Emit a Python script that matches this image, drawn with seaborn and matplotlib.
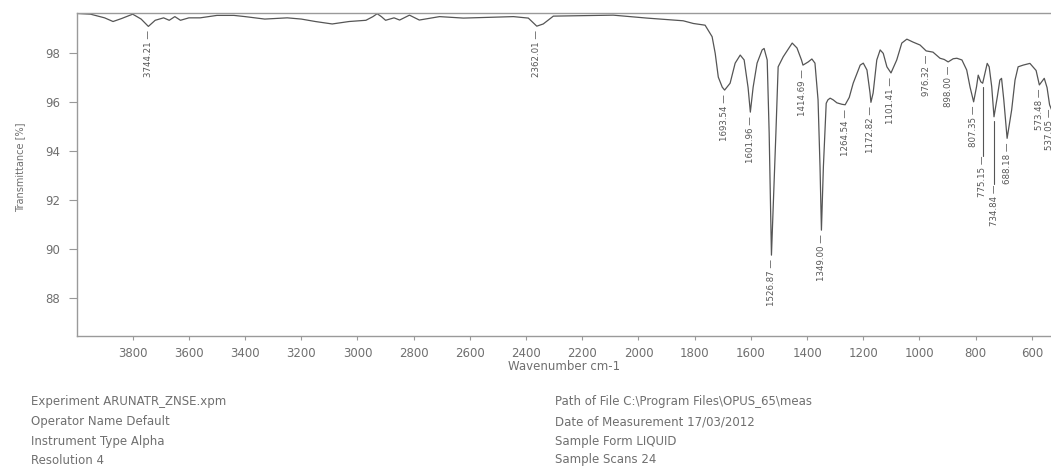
import matplotlib
matplotlib.use("Agg")
import matplotlib.pyplot as plt
from matplotlib import font_manager
import seaborn as sns
import numpy as np
import pandas as pd

# spectrum (wavenumber cm-1, transmittance %)
wavenumber = [4000, 3950, 3900, 3870, 3840, 3800, 3770, 3744.21, 3720, 3690,
              3670, 3650, 3630, 3600, 3560, 3500, 3440, 3400, 3330, 3250,
              3200, 3150, 3090, 3030, 2970, 2945, 2930, 2915, 2900, 2870,
              2850, 2815, 2780, 2708, 2623, 2445, 2392, 2362.01, 2339, 2303,
              2090, 1970, 1876, 1841, 1805, 1763, 1738, 1727, 1716, 1702,
              1693.54, 1674, 1656, 1638, 1624, 1610, 1601.96, 1592, 1578, 1560,
              1553, 1542, 1535, 1526.87, 1511, 1503, 1485, 1453, 1436, 1420,
              1414.69, 1396, 1383, 1372, 1361, 1354, 1349.00, 1342, 1332, 1326,
              1318, 1307, 1294, 1276, 1264.54, 1250, 1236, 1211, 1200, 1187,
              1176, 1172.82, 1165, 1152, 1140, 1129, 1116, 1101.41, 1081, 1063,
              1045, 1023, 998, 976.32, 952, 927, 912, 898.00, 880, 867,
              849, 832, 820, 807.35, 797, 791, 782, 775.15, 767, 759,
              752, 743, 734.84, 723, 714, 708, 700, 688.18, 672, 660,
              649, 631, 607, 585, 573.48, 556, 546, 537.05, 530]
transmittance = [99.63, 99.6, 99.45, 99.3, 99.42, 99.6, 99.4, 99.1, 99.35, 99.45,
                 99.35, 99.5, 99.35, 99.45, 99.45, 99.55, 99.55, 99.5, 99.4, 99.45,
                 99.4, 99.3, 99.2, 99.3, 99.35, 99.5, 99.62, 99.5, 99.35, 99.45,
                 99.36, 99.56, 99.36, 99.5, 99.44, 99.5, 99.44, 99.11, 99.2, 99.52,
                 99.56, 99.44, 99.36, 99.33, 99.22, 99.15, 98.68, 98.0, 97.03, 96.62,
                 96.5, 96.78, 97.6, 97.93, 97.73, 96.6, 95.6, 96.62, 97.6, 98.14,
                 98.2, 97.73, 94.75, 89.76, 94.75, 97.45, 97.86, 98.42, 98.22, 97.73,
                 97.52, 97.65, 97.77, 97.6, 96.1, 93.37, 90.78, 93.37, 95.96, 96.1,
                 96.17, 96.1, 95.98, 95.92, 95.9, 96.2, 96.78, 97.52, 97.6, 97.32,
                 96.38, 96.0, 96.38, 97.73, 98.14, 98.0, 97.45, 97.2, 97.73, 98.42,
                 98.58, 98.46, 98.34, 98.1, 98.05, 97.8, 97.75, 97.65, 97.78, 97.8,
                 97.73, 97.32, 96.62, 96.02, 96.64, 97.11, 96.84, 96.78, 97.18, 97.59,
                 97.45, 96.64, 95.41, 96.23, 96.91, 96.98, 96.1, 94.53, 95.69, 96.91,
                 97.45, 97.52, 97.59, 97.3, 96.71, 96.98, 96.6, 95.9, 95.7]

peak_labels = [3744.21, 2362.01, 1693.54, 1601.96, 1526.87, 1414.69, 1349.00,
               1264.54, 1172.82, 1101.41, 976.32, 898.00, 807.35, 775.15,
               734.84, 688.18, 573.48, 537.05]
# crowded labels pushed down with a leader line (transmittance units)
leader_drop = {775.15: 2.8, 734.84: 2.6}

x_ticks = list(range(3800, 500, -200))
y_ticks = [88, 90, 92, 94, 96, 98]

info_left = ["Experiment ARUNATR_ZNSE.xpm", "Operator Name Default",
             "Instrument Type Alpha", "Resolution 4"]
info_right = [r"Path of File C:\Program Files\OPUS_65\meas",
              "Date of Measurement 17/03/2012", "Sample Form LIQUID",
              "Sample Scans 24"]

df = pd.DataFrame({"wn": wavenumber, "T": transmittance})

sns.set_theme(style="white")
names = {f.name for f in font_manager.fontManager.ttflist}
narrow = "Liberation Sans Narrow" if "Liberation Sans Narrow" in names else "DejaVu Sans"
plt.rcParams["font.family"] = ["DejaVu Sans"]

txt = "#6f6f6f"
fig = plt.figure(figsize=(10.51, 4.66), dpi=100)
ax = fig.add_axes([76.5 / 1051, 1 - 335.7 / 466, 1 - 76.5 / 1051, (335.7 - 12.7) / 466])

sns.lineplot(data=df, x="wn", y="T", ax=ax, color="#555555", linewidth=0.9)
ax.set_xlim(4000, 532)
ax.set_ylim(86.47, 99.66)
ax.set_xticks(x_ticks)
ax.set_yticks(y_ticks)
ax.tick_params(axis="x", direction="out", length=3, width=0.8, color="#999999",
               labelsize=8.5, labelcolor=txt, pad=5, bottom=True)
ax.tick_params(axis="y", direction="out", length=6, width=0.8, color="#999999",
               labelsize=8.5, labelcolor=txt, pad=6, left=True)
for side in ["left", "bottom", "top"]:
    ax.spines[side].set_color("#9a9a9a")
    ax.spines[side].set_linewidth(1.0)
ax.spines["right"].set_visible(False)

ax.set_xlabel("Wavenumber cm-1", fontsize=8.5, color=txt)
ax.xaxis.set_label_coords(0.5, -0.075)
ax.set_ylabel("Transmittance [%]", fontsize=7, color=txt, family=[narrow, "DejaVu Sans"])
ax.yaxis.set_label_coords(-0.058, 0.52)
ax.yaxis.label.set_va("center")

# peak annotations below each band
gap = 0.16
for wn in peak_labels:
    t = np.interp(wn, wavenumber[::-1], transmittance[::-1])
    top = t - gap
    drop = leader_drop.get(wn, 0)
    if drop:
        ax.plot([wn, wn], [top, top - drop], color="#555555", linewidth=0.8, clip_on=False)
    ax.text(wn, top - drop, f"{wn:.2f} \u2014", rotation=90, ha="center", va="top",
            fontsize=6.2, color="#555555", family=[narrow, "DejaVu Sans"], clip_on=False)

ys = [401.7, 421.7, 441, 460]
for s, y in zip(info_left, ys):
    fig.text(31 / 1051, 1 - y / 466, s, fontsize=8.5, color=txt, va="center")
for s, y in zip(info_right, ys):
    fig.text(555 / 1051, 1 - y / 466, s, fontsize=8.5, color=txt, va="center")

fig.savefig("out.png", dpi=100)
